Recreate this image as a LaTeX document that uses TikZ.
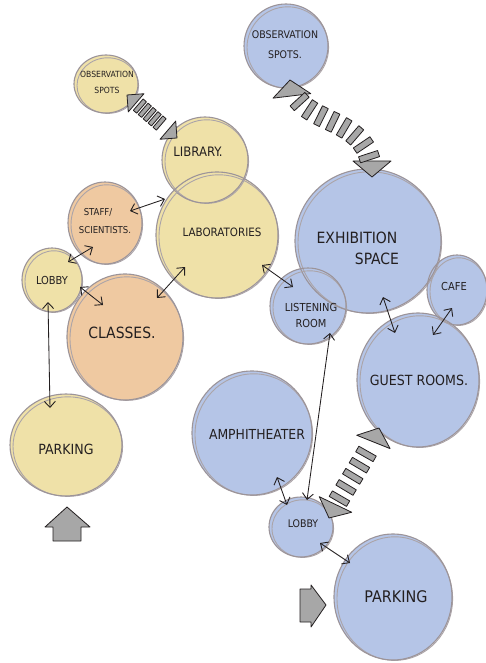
\documentclass[tikz,border=0pt]{standalone}
\usepackage{fontspec}
\setmainfont{DejaVu Sans Condensed}
\usetikzlibrary{shapes.geometric,arrows.meta,decorations.markings}

\pgfdeclarelayer{fills}
\pgfsetlayers{fills,main}

\definecolor{sand}{HTML}{EFE1A8}
\definecolor{peach}{HTML}{EFC9A1}
\definecolor{sky}{HTML}{B5C5E7}
\definecolor{ringgrey}{HTML}{9C9499}
\definecolor{ink}{HTML}{231F20}
\definecolor{bandgrey}{HTML}{A7A7A7}

\tikzset{
  ringline/.style={draw=ringgrey, line width=1.1pt},
  ringfaint/.style={draw=ringgrey!85, line width=0.9pt},
  bubble/.style={ellipse, ringline, inner sep=0pt, outer sep=0pt},
  roomlabel/.style={align=center, text=ink, inner sep=0pt},
  barb/.tip={Straight Barb[length=6pt,width=11pt,line width=0.9pt]},
  link/.style={draw=ink, line width=0.85pt, barb-barb},
  bandpiece/.style={draw=ink, fill=bandgrey, line width=0.8pt, line join=round},
  entry/.style={draw=ink, fill=bandgrey, line width=0.8pt, line join=round},
  % #1,#2 block range, #3 step, #4/#5 half block size, #6 head length, #7 head half width
  band/.style n args={7}{
    decoration={markings,
      mark=at position 0 with {\draw[bandpiece] (0pt,0pt) -- (#6,#7) -- (#6,-#7) -- cycle;},
      mark=at position 0.9999 with {\draw[bandpiece] (0pt,0pt) -- (-#6,#7) -- (-#6,-#7) -- cycle;},
      mark=between positions #1 and #2 step #3 with {\draw[bandpiece] (-#4,-#5) rectangle (#4,#5);}
    },
    decorate
  }
}

% name, centre, x radius, y radius, fill, label shift, font size, line skip, label
\newcommand\bubble[9]{%
  \begin{pgfonlayer}{fills}
    \fill[#5] (#2) ellipse [x radius=#3pt, y radius=#4pt];
  \end{pgfonlayer}
  \draw[ringfaint] ([shift={(1.8,1.6)}]#2) ellipse [x radius=#3pt-1.2pt, y radius=#4pt-1.2pt];
  \node[bubble, minimum width=2*#3pt, minimum height=2*#4pt] (#1) at (#2) {};
  \node[roomlabel, font={\fontsize{#7}{#8}\selectfont}] (#1-label) at ([shift={(#6)}]#1.center) {#9};
}

\begin{document}
\begin{tikzpicture}[x=1pt, y=-1pt]
  \useasboundingbox (0,0) rectangle (486,663);
  \begin{pgfonlayer}{fills}
    \fill[white] (0,0) rectangle (486,663);
  \end{pgfonlayer}

  % research wing
  \bubble{obsL}{106,84}{32}{29}{sand}{1,-2}{8.5}{16}{OBSERVATION\\SPOTS}
  \bubble{lib}{205,160}{43}{43}{sand}{-7,-8}{13}{15}{LIBRARY.}
  \bubble{lab}{217,235}{61}{63}{sand}{5,-3}{11.5}{14}{LABORATORIES}
  \bubble{staff}{105,223}{37}{41}{peach}{0,-2}{9.5}{18}{STAFF/\hspace*{14pt}\\SCIENTISTS.}
  \bubble{lobbyL}{52,280}{30}{32}{sand}{0,0}{11}{13}{LOBBY}
  \bubble{classes}{125,337}{58}{63}{peach}{-3,-4}{15.5}{18}{CLASSES.}
  \bubble{parkL}{66,445}{56}{51}{sand}{0,4}{14}{16}{PARKING}

  % visitor wing
  \bubble{obsR}{286,46}{42}{42}{sky}{-1,-1}{10.5}{20}{OBSERVATION\\SPOTS.}
  \bubble{exh}{368,241}{73}{72}{sky}{-11,7}{15.5}{21}{EXHIBITION\\\hspace*{40pt}SPACE}
  \bubble{cafe}{457,290}{30}{35}{sky}{-3,-4}{11}{13}{CAFE}
  \bubble{listen}{308,306}{38}{38}{sky}{3,9}{11}{16}{LISTENING\\ROOM}
  \bubble{guest}{418,380}{61}{67}{sky}{1,0}{14}{16}{GUEST ROOMS.}
  \bubble{amph}{252,433}{60}{62}{sky}{5,1}{13.8}{16}{AMPHITHEATER}
  \bubble{lobbyR}{301,527}{32}{30}{sky}{2,-3}{10.5}{13}{LOBBY}
  \bubble{parkR}{393,597}{59}{63}{sky}{3,0}{16}{18}{PARKING}

  % direct links
  \draw[link] ([shift={(25,-12)}]staff.center) -- ([shift={(-52,-36)}]lab.center);
  \draw[link] ([shift={(-12,24)}]staff.center) -- ([shift={(16,-18)}]lobbyL.center);
  \draw[link] ([shift={(28,7)}]lobbyL.center) -- ([shift={(-22,-32)}]classes.center);
  \draw[link] ([shift={(32,-39)}]classes.center) -- ([shift={(-32,32)}]lab.center);
  \draw[link] ([shift={(-4,22)}]lobbyL.center) -- ([shift={(-16,-37)}]parkL.center);
  \draw[link] ([shift={(45,30)}]lab.center) -- ([shift={(-15,-19)}]listen.center);
  \draw[link] ([shift={(15,56)}]exh.center) -- ([shift={(-23,-47)}]guest.center);
  \draw[link] ([shift={(-5,18)}]cafe.center) -- ([shift={(15,-45)}]guest.center);
  \draw[link] ([shift={(22,27)}]listen.center) -- ([shift={(6,-27)}]lobbyR.center);
  \draw[link] ([shift={(25,44)}]amph.center) -- ([shift={(-14,-22)}]lobbyR.center);
  \draw[link] ([shift={(19,16)}]lobbyR.center) -- ([shift={(-43,-34)}]parkR.center);

  % visual links (block bands)
  \path[band={17pt}{47pt}{6.5pt}{2.2pt}{7.5pt}{12pt}{12pt}]
    ([shift={(21,11)}]obsL.center) -- ([shift={(-28,-22)}]lib.center);
  \path[band={24pt}{122pt}{13pt}{3.2pt}{10pt}{16pt}{19pt}]
    ([shift={(4,34)}]obsR.center) .. controls +(6,50) and +(0,-67) .. ([shift={(4,-64)}]exh.center);
  \path[band={22pt}{80pt}{13pt}{3.2pt}{10pt}{15pt}{18pt}]
    ([shift={(28,-9)}]lobbyR.center) .. controls +(12,-25) and +(-10,25) .. ([shift={(-39,48)}]guest.center);

  % entrances
  \draw[entry] (67,507) -- (90,527) -- (81,527) -- (81,541) -- (53,541) -- (53,527) -- (45,527) -- cycle;
  \draw[entry] (300,589) -- (311,589) -- (311,585) -- (326,605) -- (311,627) -- (311,622) -- (300,622) -- cycle;
\end{tikzpicture}
\end{document}
